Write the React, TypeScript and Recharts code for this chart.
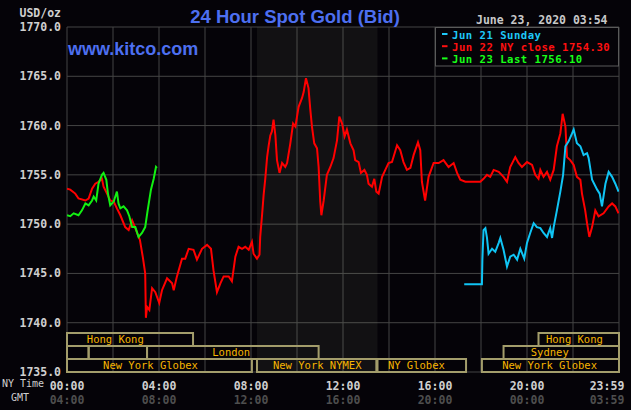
import React from 'react';
import { ComposedChart, Line, XAxis, YAxis, CartesianGrid, ReferenceArea, ReferenceDot } from 'recharts';

// ---------- data ----------
const Y_TICKS = [1735, 1740, 1745, 1750, 1755, 1760, 1765, 1770];
const X_TICKS = [0, 2, 4, 6, 8, 10, 12, 14, 16, 18, 20, 22, 24];
const NY_TIME_LABELS: Record<number, string> = { 0: '00:00', 4: '04:00', 8: '08:00', 12: '12:00', 16: '16:00', 20: '20:00', 24: '23:59' };
const GMT_LABELS: Record<number, string> = { 0: '04:00', 4: '08:00', 8: '12:00', 12: '16:00', 16: '20:00', 20: '00:00', 24: '03:59' };

const LEGEND_ITEMS = ['Jun 21 Sunday', 'Jun 22 NY close 1754.30', 'Jun 23 Last 1756.10'];

// [hour (NY time), price]
const JUN22: [number, number][] = [
  [0.0, 1753.6], [0.14, 1753.5], [0.36, 1753.1], [0.5, 1752.6], [0.8, 1752.4], [0.94, 1752.6],
  [1.09, 1753.6], [1.23, 1754.1], [1.37, 1754.3], [1.52, 1754.6], [1.59, 1753.8], [1.74, 1753.1],
  [1.88, 1752.4], [2.03, 1752.3], [2.17, 1751.6], [2.32, 1750.9], [2.53, 1749.7], [2.68, 1749.4],
  [2.83, 1750.4], [2.97, 1749.6], [3.17, 1748.4], [3.3, 1746.6], [3.4, 1745.0], [3.43, 1740.5],
  [3.48, 1741.6], [3.58, 1741.3], [3.7, 1743.5], [3.84, 1743.1], [4.01, 1742.0], [4.13, 1743.3],
  [4.35, 1744.5], [4.57, 1744.0], [4.64, 1743.3], [4.78, 1744.7], [5.0, 1746.5], [5.14, 1746.5],
  [5.29, 1747.5], [5.5, 1747.4], [5.65, 1746.4], [5.87, 1747.5], [6.09, 1747.9], [6.26, 1747.5],
  [6.37, 1745.3], [6.52, 1743.1], [6.67, 1744.0], [6.81, 1744.7], [7.03, 1744.7], [7.17, 1744.2],
  [7.32, 1746.7], [7.46, 1747.7], [7.61, 1747.5], [7.75, 1747.7], [7.9, 1747.4], [8.04, 1748.2],
  [8.11, 1747.0], [8.26, 1746.5], [8.37, 1746.9], [8.4, 1748.7], [8.48, 1750.9], [8.55, 1753.0],
  [8.62, 1754.6], [8.7, 1756.8], [8.77, 1758.0], [8.84, 1759.0], [8.91, 1759.4], [8.98, 1760.6],
  [9.06, 1759.0], [9.13, 1756.5], [9.24, 1755.2], [9.35, 1756.2], [9.49, 1755.8], [9.57, 1756.2],
  [9.71, 1758.2], [9.83, 1760.2], [9.93, 1759.9], [10.07, 1761.9], [10.22, 1762.8], [10.29, 1763.4],
  [10.39, 1764.8], [10.5, 1763.8], [10.58, 1761.6], [10.65, 1759.9], [10.75, 1758.2], [10.87, 1757.7],
  [10.94, 1755.8], [11.01, 1752.3], [11.06, 1750.9], [11.16, 1752.4], [11.3, 1755.0], [11.45, 1755.8],
  [11.59, 1756.7], [11.74, 1758.5], [11.84, 1760.9], [11.96, 1760.2], [12.07, 1758.9], [12.17, 1759.6],
  [12.32, 1758.2], [12.46, 1757.5], [12.53, 1756.5], [12.68, 1756.3], [12.78, 1755.2], [12.93, 1755.5],
  [13.04, 1755.0], [13.11, 1754.1], [13.26, 1753.8], [13.36, 1754.6], [13.45, 1753.3], [13.55, 1753.1],
  [13.7, 1754.8], [13.84, 1755.5], [13.98, 1756.2], [14.13, 1756.3], [14.35, 1758.0], [14.49, 1757.5],
  [14.63, 1756.3], [14.78, 1755.5], [14.93, 1755.7], [15.07, 1757.0], [15.26, 1758.3], [15.36, 1757.5],
  [15.43, 1754.3], [15.57, 1752.4], [15.72, 1754.8], [15.94, 1756.2], [16.16, 1756.2], [16.37, 1756.5],
  [16.59, 1755.8], [16.81, 1756.2], [16.96, 1755.2], [17.1, 1754.5], [17.32, 1754.3], [17.97, 1754.3],
  [18.11, 1754.6], [18.26, 1755.0], [18.4, 1754.8], [18.55, 1755.5], [18.77, 1755.3], [18.98, 1754.8],
  [19.13, 1754.3], [19.27, 1755.8], [19.49, 1756.8], [19.63, 1756.2], [19.78, 1755.8], [20.0, 1756.3],
  [20.22, 1756.0], [20.36, 1755.0], [20.5, 1754.6], [20.58, 1755.5], [20.72, 1754.8], [20.87, 1755.3],
  [21.01, 1754.5], [21.16, 1755.5], [21.3, 1757.9], [21.45, 1759.2], [21.55, 1761.2], [21.67, 1759.9],
  [21.74, 1756.8], [21.88, 1756.5], [22.03, 1756.0], [22.17, 1754.8], [22.32, 1754.5], [22.39, 1753.1],
  [22.53, 1751.4], [22.61, 1750.1], [22.71, 1748.7], [22.83, 1749.7], [22.97, 1751.4], [23.11, 1750.8],
  [23.33, 1751.1], [23.55, 1751.8], [23.7, 1752.1], [23.84, 1751.8], [23.98, 1751.1],
];

const JUN21: [number, number][] = [
  [17.27, 1743.9], [18.04, 1743.9], [18.06, 1746.4], [18.11, 1749.4], [18.19, 1749.6], [18.26, 1748.6],
  [18.33, 1747.0], [18.48, 1747.5], [18.62, 1747.2], [18.77, 1748.1], [18.84, 1748.6], [18.98, 1747.4],
  [19.13, 1745.7], [19.27, 1746.7], [19.42, 1746.9], [19.57, 1746.4], [19.71, 1747.5], [19.88, 1746.5],
  [20.0, 1748.1], [20.14, 1749.1], [20.29, 1750.1], [20.43, 1749.7], [20.58, 1749.6], [20.72, 1749.1],
  [20.87, 1748.7], [21.01, 1749.6], [21.09, 1748.6], [21.16, 1749.7], [21.3, 1751.4], [21.45, 1753.3],
  [21.57, 1755.0], [21.67, 1757.9], [21.81, 1758.4], [21.96, 1759.2], [22.03, 1759.6], [22.17, 1758.2],
  [22.32, 1757.9], [22.46, 1757.0], [22.61, 1757.2], [22.68, 1756.7], [22.83, 1754.5], [23.05, 1753.5],
  [23.16, 1753.1], [23.26, 1751.8], [23.41, 1754.1], [23.55, 1755.3], [23.7, 1754.8], [23.84, 1754.1],
  [23.98, 1753.3],
];

const JUN23: [number, number][] = [
  [0.0, 1750.9], [0.14, 1750.8], [0.29, 1751.1], [0.5, 1750.9], [0.65, 1751.4], [0.8, 1752.1],
  [0.94, 1751.9], [1.09, 1752.4], [1.16, 1752.8], [1.27, 1752.4], [1.37, 1754.1], [1.52, 1755.0],
  [1.59, 1755.2], [1.71, 1754.5], [1.78, 1753.1], [1.88, 1751.9], [2.03, 1752.3], [2.17, 1753.3],
  [2.24, 1752.1], [2.32, 1751.6], [2.46, 1751.8], [2.61, 1751.4], [2.71, 1750.8], [2.83, 1749.7],
  [2.97, 1749.7], [3.11, 1748.7], [3.26, 1749.1], [3.4, 1749.7], [3.5, 1751.3], [3.65, 1753.5],
  [3.77, 1754.6], [3.87, 1755.8], [3.91, 1755.7],
];

// trading sessions: row 0 = top
const SESSIONS = [
  { row: 0, start: 0, end: 5.48, name: 'Hong Kong', at: 2.1 },
  { row: 0, start: 20.5, end: 24, name: 'Hong Kong', at: 22.06 },
  { row: 1, start: 0, end: 0.94, name: '', at: 0.47 },
  { row: 1, start: 0.94, end: 3.48, name: '', at: 2.2 },
  { row: 1, start: 3.48, end: 10.94, name: 'London', at: 7.14 },
  { row: 1, start: 18.98, end: 24, name: 'Sydney', at: 20.99 },
  { row: 2, start: 0, end: 8.04, name: 'New York Globex', at: 3.63 },
  { row: 2, start: 8.26, end: 13.45, name: 'New York NYMEX', at: 10.88 },
  { row: 2, start: 13.5, end: 17.35, name: 'NY Globex', at: 15.19 },
  { row: 2, start: 18.04, end: 24, name: 'New York Globex', at: 20.98 },
];
const NYMEX_SHADE = { start: 8.26, end: 13.5 };

// ---------- styling ----------
const BG = '#050308';
const MONO = '"DejaVu Sans Mono", "Liberation Mono", monospace';
const SANS = '"Liberation Sans", Arial, sans-serif';
const BLUE = '#4d6ff0';
const GRID = '#454545';
const BAND = '#a39d6b';
const BAND_TEXT = '#f7b500';
const ROW_H = 1.32;
const rowTop = (r: number) => 1735 + (3 - r) * ROW_H;
const rowBottom = (r: number) => 1735 + (2 - r) * ROW_H;

const toRows = (arr: [number, number][]) => arr.map(([t, v]) => ({ t, v }));

const XTick = (props: any) => {
  const { x, y, payload } = props;
  const v = payload.value as number;
  const ny = NY_TIME_LABELS[v];
  if (!ny) return <g />;
  const dx = v === 24 ? -12 : 0;
  return (
    <g>
      <text x={x + dx} y={y + 15.5} textAnchor="middle" fontFamily={MONO} fontWeight="bold" fontSize={11.5} fill="#cfcfcf">{ny}</text>
      <text x={x + dx} y={y + 29.5} textAnchor="middle" fontFamily={MONO} fontWeight="bold" fontSize={11.5} fill="#4e4e4e">{GMT_LABELS[v]}</text>
    </g>
  );
};

const YTick = (props: any) => {
  const { x, y, payload } = props;
  return (
    <text x={x} y={y} dy={4} textAnchor="end" fontFamily={MONO} fontWeight="bold" fontSize={11.5} fill="#cfcfcf">
      {(payload.value as number).toFixed(1)}
    </text>
  );
};

const LEGEND_COLORS = ['#1ec8f8', '#ff1010', '#18ff18'];

export default function App() {
  return (
    <div style={{ position: 'absolute', left: 0, top: 0, width: 631, height: 410, background: BG, overflow: 'hidden' }}>
      <ComposedChart width={631} height={410} margin={{ top: 27, right: 12, bottom: 0, left: 0 }}>
        <CartesianGrid stroke={GRID} strokeWidth={1} />
        <XAxis
          dataKey="t"
          type="number"
          domain={[0, 24]}
          ticks={X_TICKS}
          interval={0}
          tick={XTick}
          tickLine={false}
          axisLine={false}
          tickSize={0}
          height={38}
          allowDataOverflow
        />
        <YAxis
          type="number"
          domain={[1735, 1770]}
          ticks={Y_TICKS}
          interval={0}
          tick={YTick}
          tickLine={false}
          axisLine={false}
          tickSize={0}
          tickMargin={6}
          width={67}
          allowDataOverflow
        />
        <ReferenceArea x1={NYMEX_SHADE.start} x2={NYMEX_SHADE.end} y1={1735} y2={1770} fill="#9fb08a" fillOpacity={0.085} stroke="none" />
        {SESSIONS.map((s, i) => (
          <ReferenceArea
            key={'b' + i}
            x1={s.start}
            x2={s.end}
            y1={rowBottom(s.row)}
            y2={rowTop(s.row)}
            fill="none"
            fillOpacity={0}
            stroke={BAND}
            strokeWidth={2}
          />
        ))}
        {SESSIONS.filter((s) => s.name).map((s, i) => (
          <ReferenceDot
            key={'l' + i}
            x={s.at}
            y={(rowTop(s.row) + rowBottom(s.row)) / 2}
            r={0}
            fill="none"
            stroke="none"
            label={{ value: s.name, position: 'center', fill: BAND_TEXT, fontFamily: MONO, fontSize: 10.5 }}
          />
        ))}
        <Line data={toRows(JUN22)} dataKey="v" type="linear" stroke="#ff0000" strokeWidth={2} dot={false} isAnimationActive={false} />
        <Line data={toRows(JUN21)} dataKey="v" type="linear" stroke="#10c4f4" strokeWidth={2} dot={false} isAnimationActive={false} />
        <Line data={toRows(JUN23)} dataKey="v" type="linear" stroke="#12f012" strokeWidth={2} dot={false} isAnimationActive={false} />
      </ComposedChart>
      <svg width={631} height={410} style={{ position: 'absolute', left: 0, top: 0, pointerEvents: 'none' }}>
        <text x={295} y={23} textAnchor="middle" fontFamily={SANS} fontWeight="bold" fontSize={18.5} fill={BLUE}>24 Hour Spot Gold (Bid)</text>
        <text x={68} y={55} fontFamily={SANS} fontWeight="bold" fontSize={18} fill={BLUE}>www.kitco.com</text>
        <text x={61} y={16.5} textAnchor="end" fontFamily={MONO} fontWeight="bold" fontSize={11.5} fill="#cfcfcf">USD/oz</text>
        <text x={476} y={24} fontFamily={MONO} fontWeight="bold" fontSize={11.5} fill="#c8c8c8">June 23, 2020 03:54</text>
        <rect x={435.5} y={27.5} width={183} height={38.5} fill={BG} stroke="#5a5a5a" strokeWidth={1} />
        {LEGEND_ITEMS.map((txt, i) => (
          <g key={i}>
            <rect x={442} y={33 + i * 12.2} width={5.5} height={2} fill={LEGEND_COLORS[i]} />
            <text x={452} y={38.5 + i * 12.2} fontFamily={MONO} fontWeight="bold" fontSize={10.6} letterSpacing={0.5} fill={LEGEND_COLORS[i]}>
              {txt}
            </text>
          </g>
        ))}
        <text x={2} y={387} fontFamily={MONO} fontSize={10} fill="#cfcfcf">NY Time</text>
        <text x={11} y={401} fontFamily={MONO} fontSize={10} fill="#cfcfcf">GMT</text>
      </svg>
    </div>
  );
}
